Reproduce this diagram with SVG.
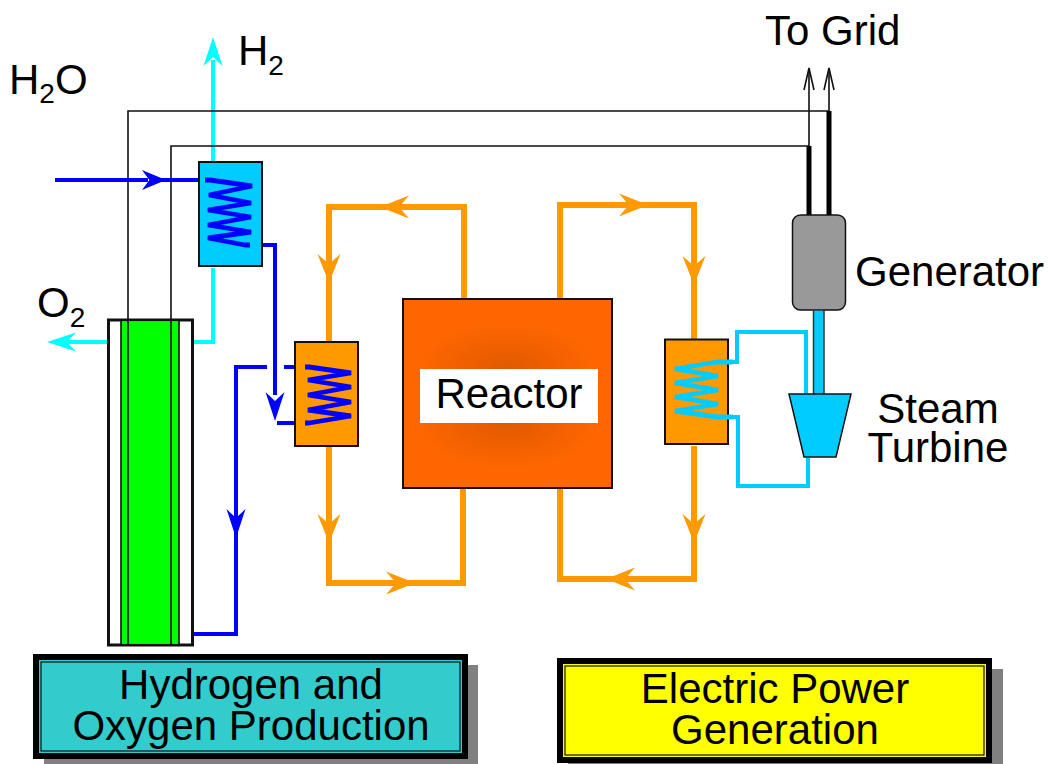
<svg xmlns="http://www.w3.org/2000/svg" width="1048" height="764" viewBox="0 0 1048 764">
<style>
text{font-family:"Liberation Sans",Arial,sans-serif;fill:#000;font-size:42px}
.sub{font-size:28px}
.m{text-anchor:middle}
.box{stroke:#111;stroke-width:2}
.w{fill:none;stroke-linejoin:miter}
.o{stroke:#f90;stroke-width:6}
.b{stroke:#00f;stroke-width:4}
.c{stroke:#0ff;stroke-width:4}
.s{stroke:#0cf;stroke-width:4}
.z{stroke-linejoin:bevel;stroke-width:4.800}
.k{stroke:#111;stroke-width:1.6}
.ko{stroke:#000;stroke-width:5}
.ao{fill:#f90}.ab{fill:#00f}.ac{fill:#0ff}
</style>
<defs>
<radialGradient id="rg"><stop offset="0" stop-color="#e05a00"/><stop offset="0.45" stop-color="#ee5f00"/><stop offset="1" stop-color="#ff6600"/></radialGradient>
<path id="ah" d="M0 0L-29 -9.500L-20 0L-29 9.500Z"/>
<path id="ahl" d="M0 0L-29 -11.500L-19 0L-29 11.500Z"/>
</defs>
<g id="connectors">
<path class="w c" d="M213 60V162M213 268V342H192M108 342H60"/>
<path class="w k" d="M128 320V111H829M171 320V146H809M809 146V70M829 111V70"/>
<path class="w ko" d="M809 146V215M829 111V215"/>
<path class="w k" d="M804 90L809 68L814 90M824 90L829 68L834 90"/>
<path class="w o" d="M464 298V207H329V342M329 446V583H463V489M560 298V205H694V339M694 446V579H560V489"/>
<path class="w b" d="M55 180H148M160 180H210"/>
<path class="w b" d="M245 245H275V395"/>
<path class="w b" d="M277 423H309M284 367H309M267 367H236V634H193"/>
<path class="w s" d="M728 362H737V332H806V394M728 417H738V486H808V458"/>
<use href="#ah" class="ab" transform="translate(166 180) scale(.83 1.050)"/>
<use href="#ah" class="ab" transform="translate(275 421) rotate(90)"/>
<use href="#ah" class="ab" transform="translate(236 538) rotate(90)"/>
<use href="#ah" class="ac" transform="translate(213 37) rotate(-90)"/>
<use href="#ah" class="ac" transform="translate(47 342) rotate(180)"/>
<use href="#ahl" class="ao" transform="translate(380 207) rotate(180)"/>
<use href="#ahl" class="ao" transform="translate(329 283) rotate(90)"/>
<use href="#ahl" class="ao" transform="translate(329 543) rotate(90)"/>
<use href="#ahl" class="ao" transform="translate(415 583)"/>
<use href="#ahl" class="ao" transform="translate(648 205)"/>
<use href="#ahl" class="ao" transform="translate(694 285) rotate(90)"/>
<use href="#ahl" class="ao" transform="translate(694 543) rotate(90)"/>
<use href="#ahl" class="ao" transform="translate(606 579) rotate(180)"/>
</g>
<g id="hx1">
<rect class="box" x="199" y="162" width="63" height="104" fill="#0cf"/>
<path class="w b z" d="M205 180H210L252 186L209 195L251 203L208 210L251 217L208 225L251 232L208 238L245 245H250"/>
</g>
<g id="hx2">
<rect class="box" x="295" y="342" width="63" height="104" fill="#f90"/>
<path class="w b z" d="M305 367H309L351 373L308 380L351 387L308 395L351 402L308 410L351 416L309 423H305"/>
</g>
<g id="hx3">
<rect class="box" x="665" y="339.500" width="63" height="104.500" fill="#f90"/>
<path class="w s z" d="M733 362H717L675 369L718 376L675 383L718 390L675 397L718 404L675 411L718 417H733"/>
</g>
<g id="electrolyzer">
<rect x="108.500" y="320" width="84" height="325" fill="#fff" stroke="#111" stroke-width="3"/>
<rect x="121" y="321.500" width="58" height="322" fill="#0f0"/>
<path class="w k" d="M121 321V644M128 320V644M171 320V644M179 321V644"/>
</g>
<g id="reactor">
<rect class="box" x="403" y="299" width="209" height="189" fill="#f60"/>
<ellipse cx="507" cy="369" rx="90" ry="46" fill="url(#rg)"/>
<ellipse cx="507" cy="423" rx="90" ry="46" fill="url(#rg)"/>
<rect x="420" y="369" width="178" height="54" fill="#fff"/>
<text class="m" x="509" y="408">Reactor</text>
</g>
<g id="generator">
<rect x="792.500" y="215" width="53" height="95" rx="8" fill="#999" stroke="#111" stroke-width="1.500"/>
<text x="855" y="286">Generator</text>
</g>
<g id="turbine">
<rect x="813.500" y="310" width="10.500" height="84" fill="#0cf" stroke="#333" stroke-width="1.500"/>
<path d="M789 394H851L836 457H804Z" fill="#0cf" stroke="#111" stroke-width="1.500"/>
<text class="m" x="938" y="423">Steam</text>
<text class="m" x="938" y="462">Turbine</text>
</g>
<g id="labels">
<text x="9" y="94">H<tspan class="sub" dy="9">2</tspan><tspan dy="-9">O</tspan></text>
<text x="238" y="65">H<tspan class="sub" dy="10">2</tspan></text>
<text x="37" y="317">O<tspan class="sub" dy="10">2</tspan></text>
<text x="765" y="45">To Grid</text>
</g>
<g id="box-hydrogen">
<rect x="44" y="665" width="434" height="104" fill="#808080"/>
<rect x="36" y="657" width="429" height="99" fill="#3cc" stroke="#000" stroke-width="6"/>
<rect x="41" y="662" width="419" height="89" fill="none" stroke="#111" stroke-width="1.200"/>
<text class="m" x="251" y="699">Hydrogen and</text>
<text class="m" x="251" y="740">Oxygen Production</text>
</g>
<g id="box-electric">
<rect x="568" y="669" width="435" height="95" fill="#808080"/>
<rect x="560" y="661" width="429" height="99" fill="#ff0" stroke="#000" stroke-width="6"/>
<rect x="565" y="666" width="419" height="89" fill="none" stroke="#111" stroke-width="1.200"/>
<text class="m" x="775" y="703">Electric Power</text>
<text class="m" x="775" y="744">Generation</text>
</g>
</svg>
